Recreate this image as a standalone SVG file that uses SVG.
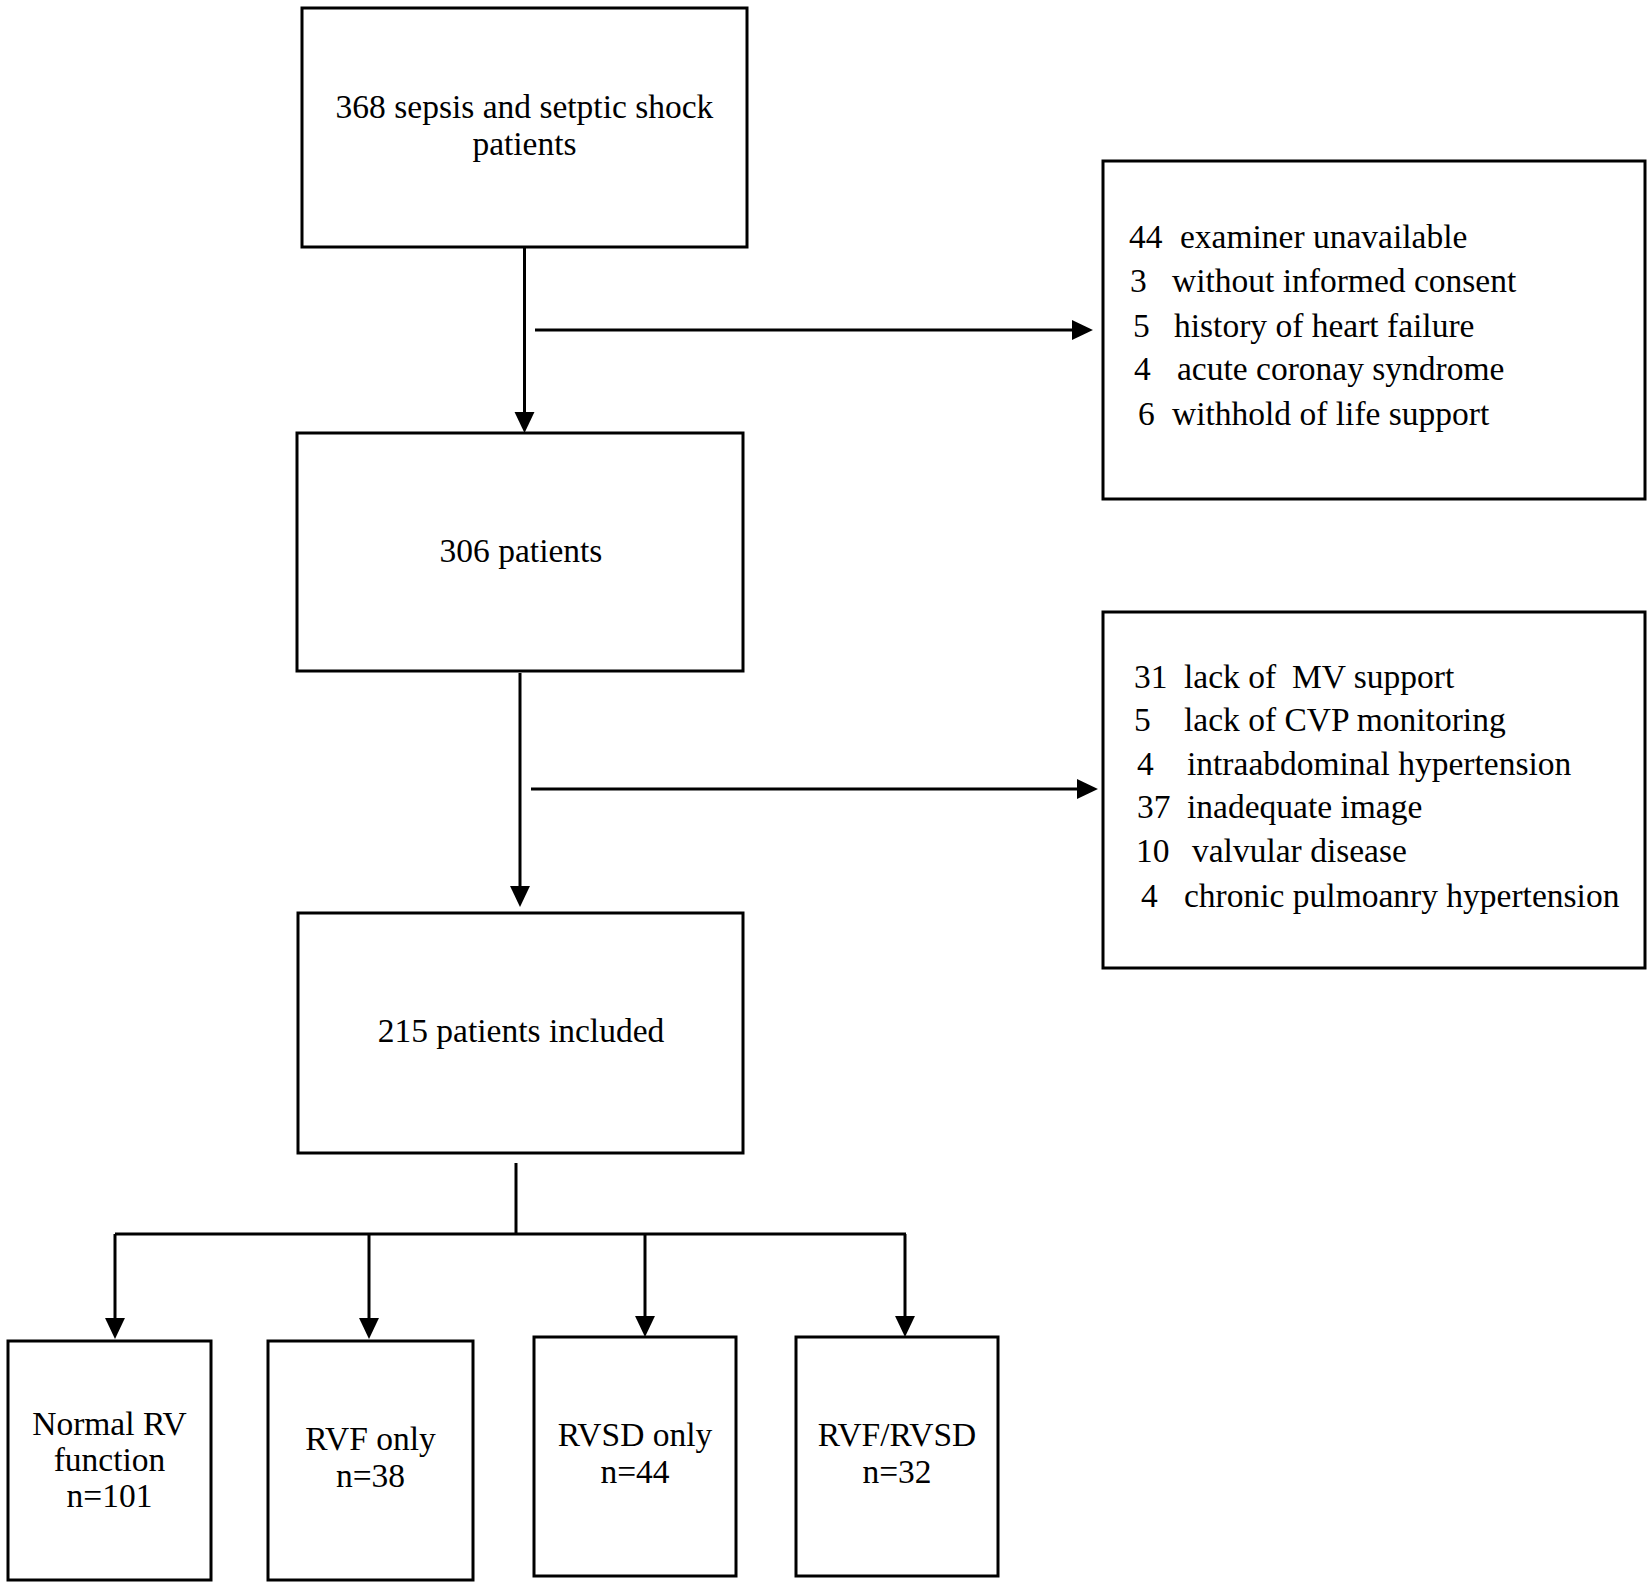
<svg xmlns="http://www.w3.org/2000/svg" width="1652" height="1588" viewBox="0 0 1652 1588">
<style>
  .box { fill: #ffffff; stroke: #000000; stroke-width: 3; }
  .t { font-family: "Liberation Serif", "Times New Roman", serif; font-size: 33.5px; fill: #000000; }
  .c { text-anchor: middle; }
  .ln { fill: none; stroke: #000000; stroke-width: 3; }
</style>
<defs>
  <marker id="arr" markerUnits="userSpaceOnUse" markerWidth="22" markerHeight="22" viewBox="0 -10 21 20" refX="0" refY="0" orient="auto">
    <path d="M0,-9.5 L20,0 L0,9.5 Z" fill="#000000"/>
  </marker>
</defs>
<rect width="1652" height="1588" fill="#ffffff"/>

<g id="connectors">
  <line class="ln" x1="524.5" y1="247" x2="524.5" y2="412" marker-end="url(#arr)"/>
  <line class="ln" x1="535" y1="330" x2="1072" y2="330" marker-end="url(#arr)"/>
  <line class="ln" x1="520" y1="673" x2="520" y2="886" marker-end="url(#arr)"/>
  <line class="ln" x1="531" y1="789" x2="1077" y2="789" marker-end="url(#arr)"/>
  <line class="ln" x1="516" y1="1163" x2="516" y2="1234"/>
  <path class="ln" d="M115,1234 H906"/>
  <line class="ln" x1="115" y1="1234" x2="115" y2="1318" marker-end="url(#arr)"/>
  <line class="ln" x1="369" y1="1234" x2="369" y2="1318" marker-end="url(#arr)"/>
  <line class="ln" x1="645" y1="1234" x2="645" y2="1316" marker-end="url(#arr)"/>
  <line class="ln" x1="905" y1="1234" x2="905" y2="1316" marker-end="url(#arr)"/>
</g>

<g id="n1">
  <rect class="box" x="302" y="8" width="445" height="239"/>
  <text class="t c" x="524.5" y="118">368 sepsis and setptic shock</text>
  <text class="t c" x="524.5" y="155">patients</text>
</g>

<g id="n2">
  <rect class="box" x="297" y="433" width="446" height="238"/>
  <text class="t c" x="521" y="562">306 patients</text>
</g>

<g id="n3">
  <rect class="box" x="298" y="913" width="445" height="240"/>
  <text class="t c" x="521" y="1042">215 patients included</text>
</g>

<g id="excl1">
  <rect class="box" x="1103" y="161" width="542" height="338"/>
  <text class="t" y="248"><tspan x="1129">44</tspan><tspan x="1180">examiner unavailable</tspan></text>
  <text class="t" y="292"><tspan x="1130">3</tspan><tspan x="1172">without informed consent</tspan></text>
  <text class="t" y="337"><tspan x="1133">5</tspan><tspan x="1174">history of heart failure</tspan></text>
  <text class="t" y="380"><tspan x="1134">4</tspan><tspan x="1177">acute coronay syndrome</tspan></text>
  <text class="t" y="425"><tspan x="1138">6</tspan><tspan x="1172">withhold of life support</tspan></text>
</g>

<g id="excl2">
  <rect class="box" x="1103" y="612" width="542" height="356"/>
  <text class="t" y="688"><tspan x="1134">31</tspan><tspan x="1184">lack of</tspan><tspan x="1292">MV support</tspan></text>
  <text class="t" y="731"><tspan x="1134">5</tspan><tspan x="1184">lack of CVP monitoring</tspan></text>
  <text class="t" y="775"><tspan x="1137">4</tspan><tspan x="1187">intraabdominal hypertension</tspan></text>
  <text class="t" y="818"><tspan x="1137">37</tspan><tspan x="1187">inadequate image</tspan></text>
  <text class="t" y="862"><tspan x="1136">10</tspan><tspan x="1192">valvular disease</tspan></text>
  <text class="t" y="907"><tspan x="1141">4</tspan><tspan x="1184">chronic pulmoanry hypertension</tspan></text>
</g>

<g id="g1">
  <rect class="box" x="8" y="1341" width="203" height="239"/>
  <text class="t c" x="109.5" y="1435">Normal RV</text>
  <text class="t c" x="109.5" y="1471">function</text>
  <text class="t c" x="109.5" y="1507">n=101</text>
</g>

<g id="g2">
  <rect class="box" x="268" y="1341" width="205" height="239"/>
  <text class="t c" x="370.5" y="1450">RVF only</text>
  <text class="t c" x="370.5" y="1487">n=38</text>
</g>

<g id="g3">
  <rect class="box" x="534" y="1337" width="202" height="239"/>
  <text class="t c" x="635" y="1446">RVSD only</text>
  <text class="t c" x="635" y="1483">n=44</text>
</g>

<g id="g4">
  <rect class="box" x="796" y="1337" width="202" height="239"/>
  <text class="t c" x="897" y="1446">RVF/RVSD</text>
  <text class="t c" x="897" y="1483">n=32</text>
</g>
</svg>
